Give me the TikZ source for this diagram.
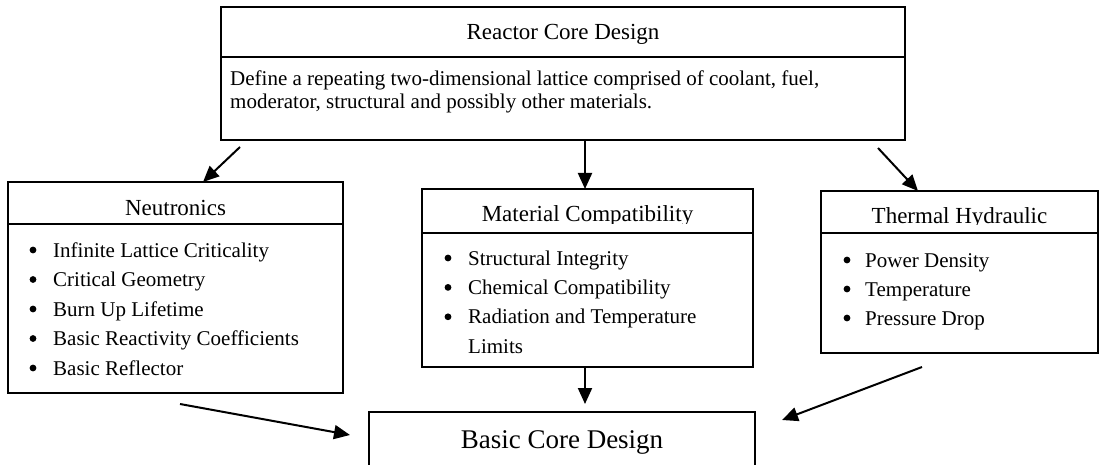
\documentclass[tikz,border=0pt]{standalone}
\usepackage{fontspec}
\setmainfont{Liberation Serif}
\usetikzlibrary{arrows.meta}
\begin{document}
\begin{tikzpicture}[x=1pt,y=-1pt,
  boxpart/.style={draw, line width=1.6pt, inner sep=0pt, outer sep=0pt, anchor=north west, fill=white},
  ttl/.style={font=\fontsize{23}{27}\selectfont, inner sep=0pt, anchor=base},
  txt/.style={font=\fontsize{21}{25}\selectfont, inner sep=0pt, anchor=base west},
  bul/.style={fill=black},
  arr/.style={line width=2pt, -{Triangle[length=16pt,width=14pt]}}]
\useasboundingbox (0,0) rectangle (1102,465);

% Reactor Core Design
\node[boxpart, minimum width=684pt, minimum height=50pt] (topH) at (221,7) {};
\node[boxpart, minimum width=684pt, minimum height=83pt] (topB) at (221,57) {};
\node[ttl] (topT) at (563,40) {Reactor Core Design};
\node[txt] (topL1) at (230,86) {Define a repeating two-dimensional lattice comprised of coolant, fuel,};
\node[txt] (topL2) at (230,109) {moderator, structural and possibly other materials.};

% Neutronics
\node[boxpart, minimum width=335pt, minimum height=42pt] (neuH) at (8,182) {};
\node[boxpart, minimum width=335pt, minimum height=169pt] (neuB) at (8,224) {};
\node[ttl] (neuT) at (175.5,215) {Neutronics};
\foreach \t [count=\i] in {Infinite Lattice Criticality, Critical Geometry, Burn Up Lifetime, Basic Reactivity Coefficients, Basic Reflector}{
  \node[txt] (neu\i) at (53,{257+29.5*(\i-1)}) {\t};
  \fill[bul] (33,{250+29.5*(\i-1)}) circle (3.4pt);
}

% Material Compatibility
\node[boxpart, minimum width=331pt, minimum height=44pt] (matH) at (422,189) {};
\begin{scope}
\clip (422,189) rectangle (753,223.5);
\node[ttl] (matT) at (587.5,222) {Material Compatibility};
\end{scope}
\node[boxpart, minimum width=331pt, minimum height=134pt] (matB) at (422,233) {};
\foreach \t [count=\i] in {Structural Integrity, Chemical Compatibility, Radiation and Temperature}{
  \node[txt] (mat\i) at (468,{265+29.4*(\i-1)}) {\t};
  \fill[bul] (448,{258+29.4*(\i-1)}) circle (3.4pt);
}
\node[txt] (mat4) at (468,353) {Limits};

% Thermal Hydraulic
\node[boxpart, minimum width=277pt, minimum height=42pt] (theH) at (821,191) {};
\begin{scope}
\clip (821,191) rectangle (1098,224.5);
\node[ttl] (theT) at (959.5,223) {Thermal Hydraulic};
\end{scope}
\node[boxpart, minimum width=277pt, minimum height=120pt] (theB) at (821,233) {};
\foreach \t [count=\i] in {Power Density, Temperature, Pressure Drop}{
  \node[txt] (the\i) at (865,{267+29*(\i-1)}) {\t};
  \fill[bul] (847,{260+29*(\i-1)}) circle (3.4pt);
}

% Basic Core Design
\node[boxpart, minimum width=386pt, minimum height=60pt] (bas) at (369,412) {};
\node[ttl, font=\fontsize{27}{31}\selectfont] (basT) at (562,448) {Basic Core Design};

% connectors
\coordinate (a1s) at (240,147); \coordinate (a1e) at (203,182);
\coordinate (a2s) at (585,140); \coordinate (a2e) at (585,189);
\coordinate (a3s) at (878,148); \coordinate (a3e) at (918,191);
\coordinate (a4s) at (585,367); \coordinate (a4e) at (585,404);
\coordinate (a5s) at (180,404); \coordinate (a5e) at (350,435);
\coordinate (a6s) at (922,367); \coordinate (a6e) at (782,420);
\draw[arr] (a1s) -- (a1e);
\draw[arr] (a2s) -- (a2e);
\draw[arr] (a3s) -- (a3e);
\draw[arr] (a4s) -- (a4e);
\draw[arr] (a5s) -- (a5e);
\draw[arr] (a6s) -- (a6e);
\end{tikzpicture}
\end{document}
